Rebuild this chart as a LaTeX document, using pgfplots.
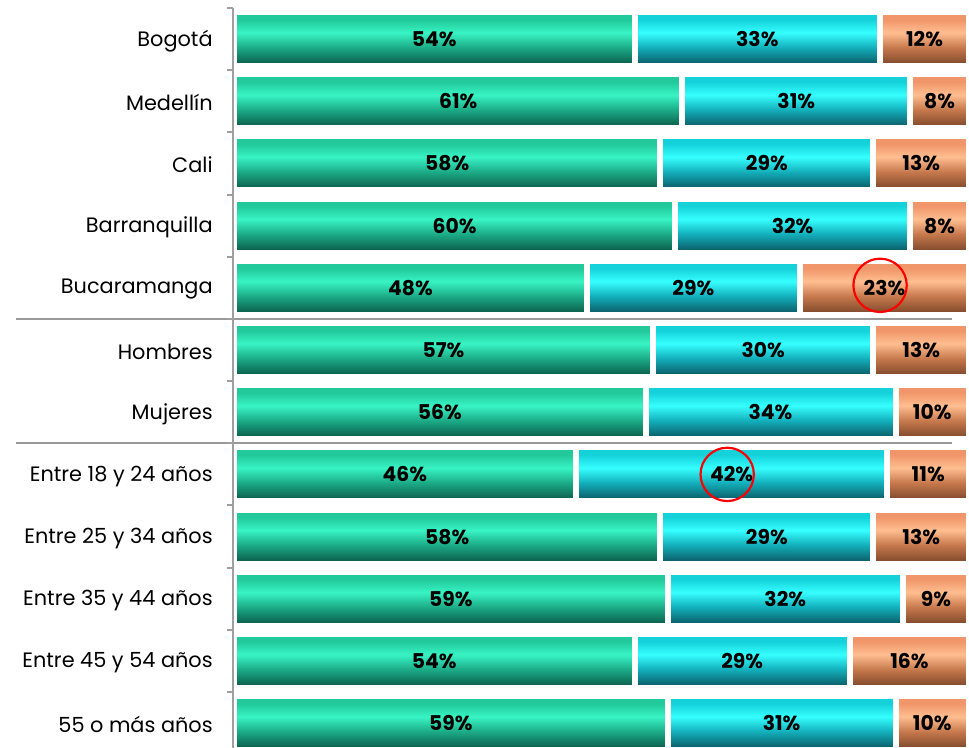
\documentclass[border=0pt]{standalone}
\usepackage{pgfplots}
\pgfplotsset{compat=1.18}
\usepackage{pgfplotstable}
\usepackage{fontspec}
\setmainfont{Poppins}

\definecolor{gdark}{HTML}{0A5443}
\definecolor{gmid}{HTML}{1BAA86}
\definecolor{glight}{HTML}{38F4C4}
\definecolor{gtop}{HTML}{22C99B}
\definecolor{cdark}{HTML}{0A525C}
\definecolor{cmid}{HTML}{12AEBA}
\definecolor{clight}{HTML}{36FFFF}
\definecolor{ctop}{HTML}{15D2DA}
\definecolor{odark}{HTML}{784428}
\definecolor{omid}{HTML}{C6784C}
\definecolor{olight}{HTML}{FFBE90}
\definecolor{otop}{HTML}{F0966A}

\pgfdeclareverticalshading{gbar}{100bp}{color(0bp)=(gdark); color(25bp)=(gdark); color(42bp)=(gmid); color(56bp)=(glight); color(68bp)=(gtop); color(75bp)=(gtop); color(100bp)=(gtop)}
\pgfdeclareverticalshading{cbar}{100bp}{color(0bp)=(cdark); color(25bp)=(cdark); color(42bp)=(cmid); color(56bp)=(clight); color(68bp)=(ctop); color(75bp)=(ctop); color(100bp)=(ctop)}
\pgfdeclareverticalshading{obar}{100bp}{color(0bp)=(odark); color(25bp)=(odark); color(42bp)=(omid); color(56bp)=(olight); color(68bp)=(otop); color(75bp)=(otop); color(100bp)=(otop)}

% bar lengths (normalised to 100) and printed labels
\pgfplotstableread{
row g    c    o    gl cl ol
0   54.5 33.4 12.1 54 33 12
1   61   31   8    61 31 8
2   58   29   13   58 29 13
3   60   32   8    60 32 8
4   48   29   23   48 29 23
5   57   30   13   57 30 13
6   56   34   10   56 34 10
7   46.5 42.4 11.1 46 42 11
8   58   29   13   58 29 13
9   59   32   9    59 32 9
10  54.5 29.3 16.2 54 29 16
11  59   31   10   59 31 10
}\data

\pgfplotsset{
  mybar/.style={xbar, bar shift=0pt, bar width=0.868, draw=white, line width=3.6pt, nodes near coords=},
  mylab/.style={draw=none, mark=none, nodes near coords={\pgfmathprintnumber{\pgfplotspointmeta}\%},
    every node near coord/.style={anchor=center, font=\bfseries\fontsize{12.2}{14}\selectfont, text=black}},
}

\begin{document}
\begin{tikzpicture}
\begin{axis}[
  name=ax,
  scale only axis,
  width=441.6pt, height=444pt,
  xmin=-0.14, xmax=100,
  ymin=-0.5, ymax=11.4,
  y dir=reverse,
  axis x line=none,
  axis y line*=left,
  axis line style={gray!75, line width=1.2pt},
  ytick={0,...,11},
  yticklabels={Bogotá, Medellín, Cali, Barranquilla, Bucaramanga, Hombres, Mujeres, Entre 18 y 24 años, Entre 25 y 34 años, Entre 35 y 44 años, Entre 45 y 54 años, 55 o más años},
  minor ytick={-0.5,0.5,...,11.5},
  major tick length=0pt,
  minor tick length=3.6pt,
  tick align=outside,
  tick style={gray!75, line width=1.2pt},
  yticklabel style={font=\fontsize{12.5}{15}\selectfont, inner sep=0pt, anchor=east, yshift=-1pt},
  yticklabel shift=12pt,
  xtick=\empty,
  clip=false,
  axis on top,
  /pgf/number format/assume math mode=true,
]
% orange spans to the full total, cyan to green+cyan, green to green: painted in that order
\pgfplotsinvokeforeach{0,...,11}{
  \addplot[mybar, shading=obar, restrict y to domain=#1:#1] table[x expr=\thisrow{g}+\thisrow{c}+\thisrow{o}, y=row] {\data};
}
\pgfplotsinvokeforeach{0,...,11}{
  \addplot[mybar, shading=cbar, restrict y to domain=#1:#1] table[x expr=\thisrow{g}+\thisrow{c}, y=row] {\data};
}
\pgfplotsinvokeforeach{0,...,11}{
  \addplot[mybar, shading=gbar, restrict y to domain=#1:#1] table[x=g, y=row] {\data};
}

\addplot[mylab, point meta=\thisrow{gl}] table[x expr=\thisrow{g}/2, y=row] {\data};
\addplot[mylab, point meta=\thisrow{cl}] table[x expr=\thisrow{g}+\thisrow{c}/2, y=row] {\data};
\addplot[mylab, point meta=\thisrow{ol}] table[x expr=\thisrow{g}+\thisrow{c}+\thisrow{o}/2, y=row] {\data};

\addplot[only marks, mark=o, mark size=16pt, mark options={draw=red, line width=1.3pt}] coordinates {(87.9,3.96) (67.1,7.0)};

\draw[gray!80, line width=1.2pt] (axis cs:-29.7,4.5) -- (axis cs:97.7,4.5);
\draw[gray!80, line width=1.2pt] (axis cs:-29.7,6.5) -- (axis cs:97.7,6.5);
\end{axis}
\path (ax.south west) ++(-139.8pt,0pt) coordinate (bl);
\path (ax.north east) ++(0pt,4.8pt) coordinate (tr);
\pgfresetboundingbox
\path[use as bounding box] (bl) rectangle (tr);
\end{tikzpicture}
\end{document}
